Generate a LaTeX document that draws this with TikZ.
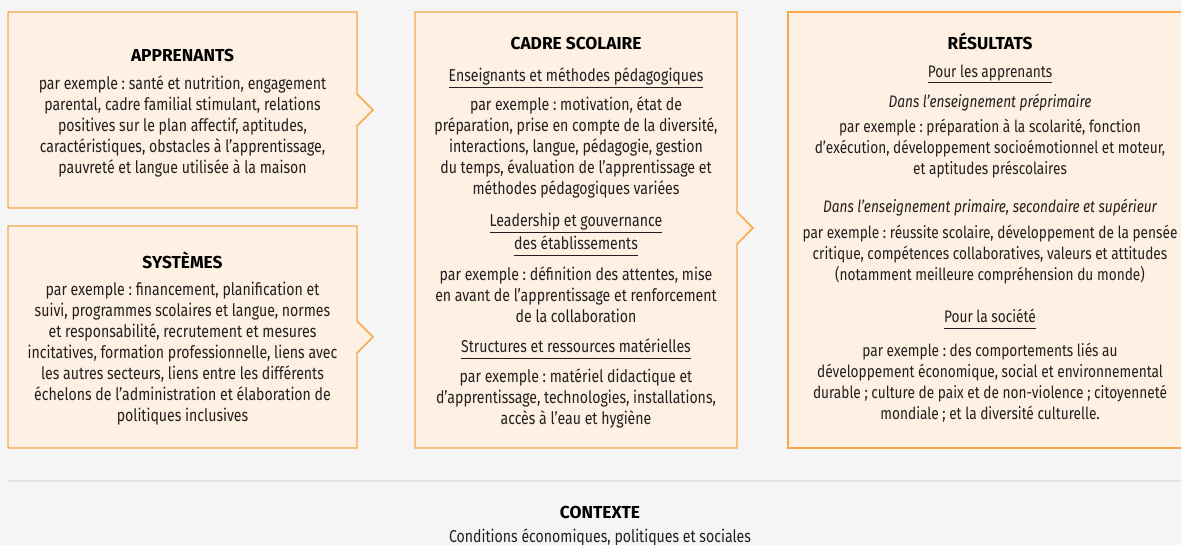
\documentclass[tikz,border=0pt]{standalone}
\usepackage{fontspec}
\setmainfont{Fira Sans}[FakeStretch=0.82]
\newfontfamily\fontetitre{Fira Sans}
\usetikzlibrary{positioning}
\definecolor{fond}{HTML}{F5F5F5}
\definecolor{cadre}{HTML}{FEF0E2}
\definecolor{bord}{HTML}{F7A84A}
\definecolor{texte}{HTML}{231F20}
\definecolor{filet}{HTML}{E5E4E1}
\tikzset{
  boite/.style={draw=bord, fill=cadre, line width=1.1pt},
  titre/.style={font=\fontsize{13}{15}\fontetitre\bfseries, text=black, inner sep=0pt},
  corps/.style={font=\fontsize{12.9}{15.75}\selectfont\frenchspacing, text=texte, align=center, inner sep=0pt},
  corpsres/.style={corps, font=\fontsize{12.5}{15.75}\selectfont\frenchspacing},
  intitule/.style={corps, font=\fontsize{12.5}{15.75}\selectfont\itshape},
}
\newcommand{\souligne}[1]{\underline{#1\vphantom{gp}}}

\begin{document}
\begin{tikzpicture}[x=0.75pt, y=-0.75pt]
    % Fond et cadre de la page
    \fill[fond] (0,0) rectangle (1181,545);
    \useasboundingbox (0,0) rectangle (1181,545);

    % Boites
    \draw[boite] (8,12) -- (357,12) -- (357,94) -- (373,110) -- (357,126) -- (357,208) -- (8,208) -- cycle;
    \draw[boite] (8,226) -- (357,226) -- (357,321) -- (373,337) -- (357,353) -- (357,448) -- (8,448) -- cycle;
    \draw[boite] (415,12) -- (737,12) -- (737,212) -- (753,228) -- (737,244) -- (737,448) -- (415,448) -- cycle;
    \draw[boite] (788,12) rectangle (1195,448);

    % Apprenants
    \node[titre] (apprenants) at (182.5,55) {APPRENANTS};
    \node[corps] (apprenants-ex) at (182.5,126.5) {par exemple : santé et nutrition, engagement\\
        parental, cadre familial stimulant, relations\\
        positives sur le plan affectif, aptitudes,\\
        caractéristiques, obstacles à l’apprentissage,\\
        pauvreté et langue utilisée à la maison};

    % Systemes
    \node[titre] (systemes) at (182.5,260) {SYSTÈMES};
    \node[corps] (systemes-ex) at (182.5,353.5) {par exemple : financement, planification et\\
        suivi, programmes scolaires et langue, normes\\
        et responsabilité, recrutement et mesures\\
        incitatives, formation professionnelle, liens avec\\
        les autres secteurs, liens entre les différents\\
        échelons de l’administration et élaboration de\\
        politiques inclusives};

    % Cadre scolaire
    \node[titre] (cadre) at (576,43) {CADRE SCOLAIRE};
    \node[corps] (enseignants) at (576,78) {\souligne{Enseignants et méthodes pédagogiques}};
    \node[corps] (enseignants-ex) at (576,147.5) {par exemple : motivation, état de\\
        préparation, prise en compte de la diversité,\\
        interactions, langue, pédagogie, gestion\\
        du temps, évaluation de l’apprentissage et\\
        méthodes pédagogiques variées};
    \node[corps] (leadership) at (576,223) {\souligne{Leadership et gouvernance}};
    \node[corps] (etablissements) at (576,246) {\souligne{des établissements}};
    \node[corps] (leadership-ex) at (576,294.5) {par exemple : définition des attentes, mise\\
        en avant de l’apprentissage et renforcement\\
        de la collaboration};
    \node[corps] (structures) at (576,349) {\souligne{Structures et ressources matérielles}};
    \node[corps] (structures-ex) at (576,398.5) {par exemple : matériel didactique et\\
        d’apprentissage, technologies, installations,\\
        accès à l’eau et hygiène};

    % Resultats
    \node[titre] (resultats) at (990,41) {RÉSULTATS};
    \node[corpsres] (apprenants-res) at (990,74) {\souligne{Pour les apprenants}};
    \node[intitule] (preprimaire) at (990,103) {Dans l’enseignement préprimaire};
    \node[corpsres] (preprimaire-ex) at (990,149) {par exemple : préparation à la scolarité, fonction\\
        d’exécution, développement socioémotionnel et moteur,\\
        et aptitudes préscolaires};
    \node[intitule] (primaire) at (990,208) {Dans l’enseignement primaire, secondaire et supérieur};
    \node[corpsres] (primaire-ex) at (990,255) {par exemple : réussite scolaire, développement de la pensée\\
        critique, compétences collaboratives, valeurs et attitudes\\
        (notamment meilleure compréhension du monde)};
    \node[corpsres] (societe) at (990,319) {\souligne{Pour la société}};
    \node[corpsres] (societe-ex) at (990,382.5) {par exemple : des comportements liés au\\
        développement économique, social et environnemental\\
        durable ; culture de paix et de non-violence ; citoyenneté\\
        mondiale ; et la diversité culturelle.};

    % Contexte
    \draw[filet, line width=1.7pt] (8,481) -- (1181,481);
    \node[titre] (contexte) at (600,512) {CONTEXTE};
    \node[corps] (conditions) at (600,537) {Conditions économiques, politiques et sociales};
\end{tikzpicture}
\end{document}
